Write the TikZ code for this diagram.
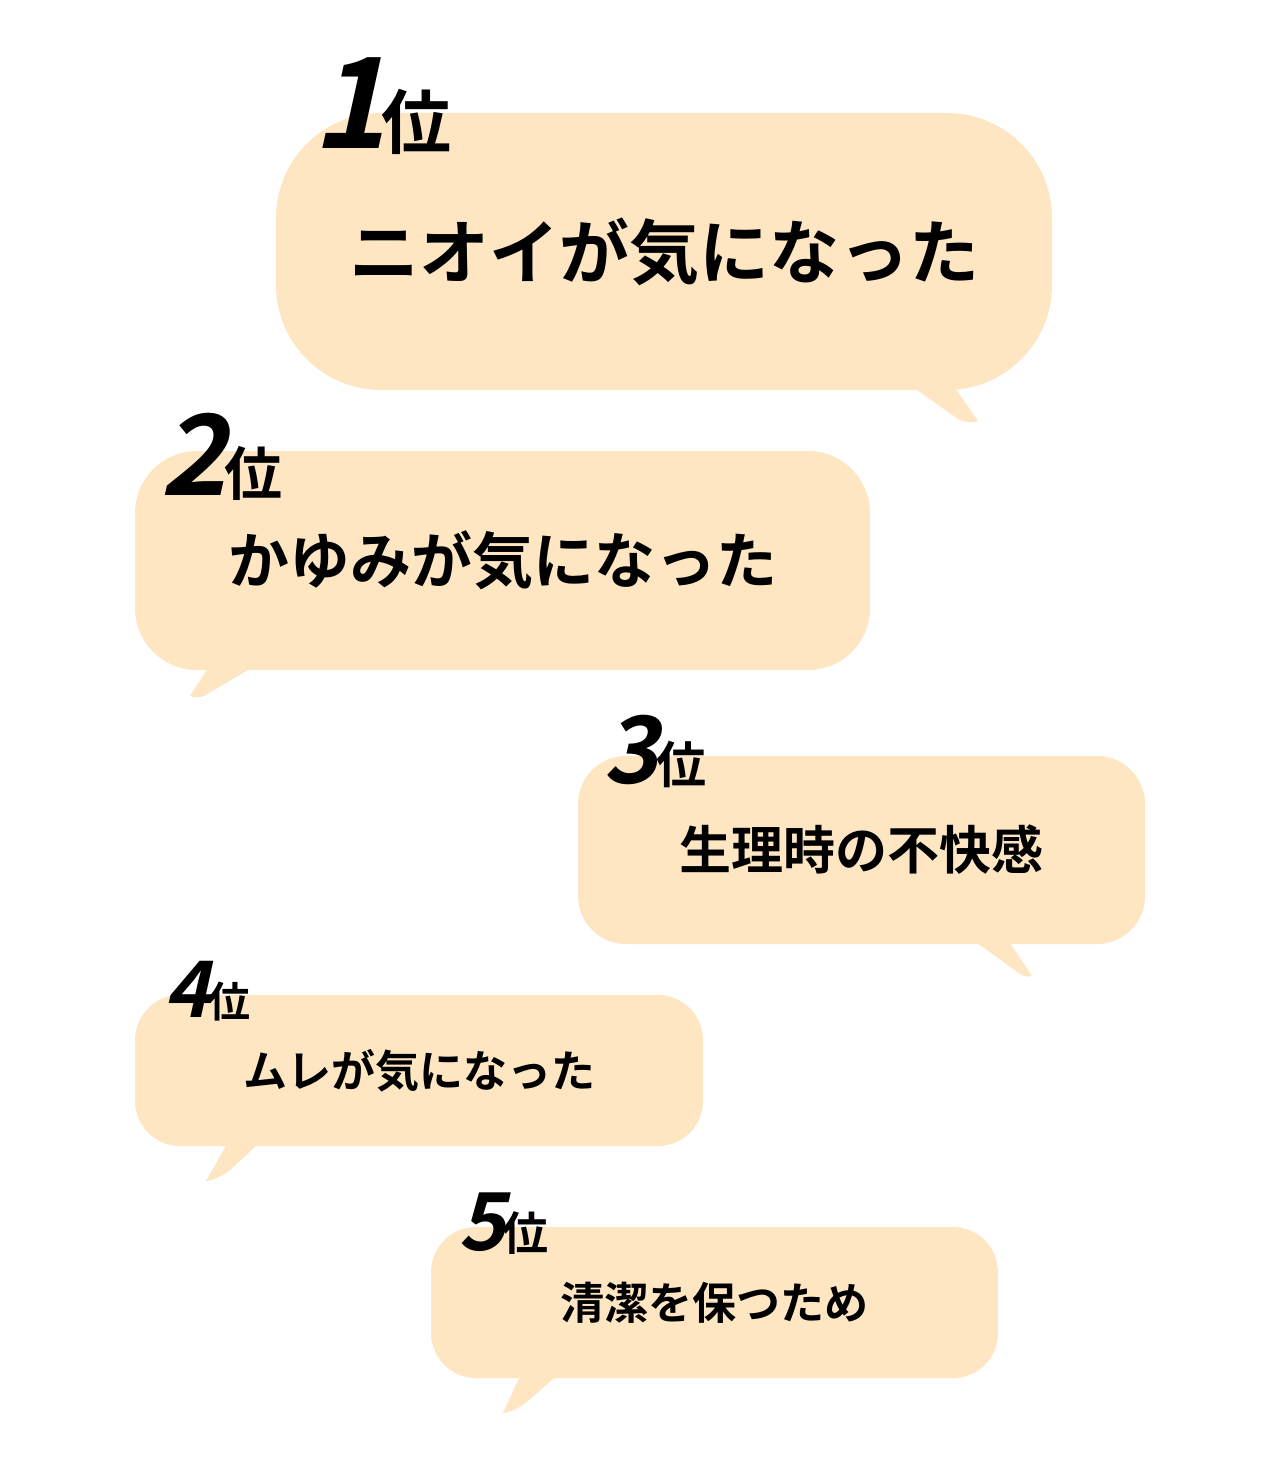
\documentclass[tikz,border=0pt]{standalone}
\usepackage{fontspec}
\newfontfamily\jpfont{Noto Sans CJK JP Bold}
\newfontfamily\rankfont{Noto Sans CJK JP Bold}[FakeSlant=0.22]
\definecolor{peach}{HTML}{FEE6C3}
\newcommand{\fsize}[1]{\fontsize{#1}{#1}\selectfont}
\newcommand{\rank}[4]{{\rankfont\fsize{#2}#1}\kern#4pt{\jpfont\fsize{#3}位}}

\begin{document}
\begin{tikzpicture}[x=1pt, y=-1pt,
    bubble/.style={fill=peach, inner sep=0pt, font=\jpfont},
    ranklabel/.style={anchor=base west, inner sep=0pt}]
\useasboundingbox (0,0) rectangle (1280,1469);

% bubbles
\node[bubble, minimum width=776pt, minimum height=277pt, rounded corners=105pt] (b1) at (664,251.5) {\fsize{70}ニオイが気になった};
\node[bubble, minimum width=735pt, minimum height=219pt, rounded corners=62pt] (b2) at (502.5,560.5) {\fsize{61}かゆみが気になった};
\node[bubble, minimum width=567pt, minimum height=188pt, rounded corners=48pt] (b3) at (861.5,850) {\fsize{52}生理時の不快感};
\node[bubble, minimum width=568pt, minimum height=151pt, rounded corners=45pt] (b4) at (419,1070.5) {\fsize{44}ムレが気になった};
\node[bubble, minimum width=567pt, minimum height=151pt, rounded corners=45pt] (b5) at (714.5,1302.5) {\fsize{44}清潔を保つため};

% tails
\fill[peach] (910,385) -- (958,419) .. controls (966,423) and (974,423) .. (978,421) -- (953,385) -- cycle;
\fill[peach] (210,665) -- (190,696) .. controls (194,698) and (200,698) .. (204,696) -- (248,670) -- (248,665) -- cycle;
\fill[peach] (973,940) -- (1020,974) .. controls (1025,977) and (1030,977) .. (1032,976) -- (1008,940) -- cycle;
\fill[peach] (228,1142) -- (206,1181) .. controls (214,1180) and (222,1176) .. (230,1170) -- (256,1146) -- (256,1142) -- cycle;
\fill[peach] (521,1374) -- (503,1413) .. controls (511,1412) and (519,1408) .. (527,1402) -- (554,1378) -- (554,1374) -- cycle;

% ranks
\node[ranklabel] (r1) at (312,148) {\rank{1}{126}{70}{-5}};
\node[ranklabel] (r2) at (160,495) {\rank{2}{112}{58}{-2}};
\node[ranklabel] (r3) at (603,783) {\rank{3}{93}{50}{-2}};
\node[ranklabel] (r4) at (164,1017) {\rank{4}{78}{42}{-2}};
\node[ranklabel] (r5) at (458,1250) {\rank{5}{80}{46}{-3}};
\end{tikzpicture}
\end{document}
